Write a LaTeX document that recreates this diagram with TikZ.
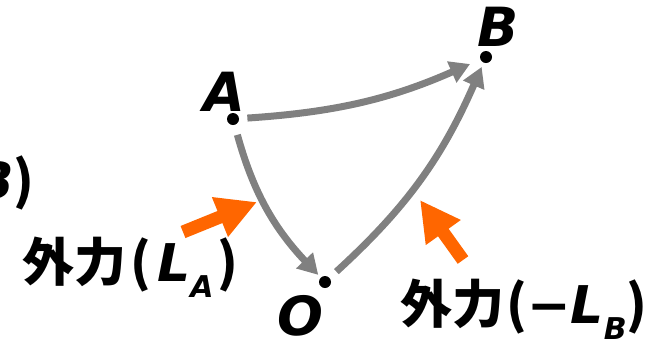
\documentclass[tikz,border=0pt]{standalone}
\usepackage{fontspec}
\usepackage{xcolor}
\usepackage{tikz}
\usetikzlibrary{arrows.meta}
\newfontfamily\jpfont{Noto Sans CJK JP}
\newfontfamily\ltfont{DejaVu Sans}
\definecolor{ArrowGray}{HTML}{808080}
\definecolor{ForceOrange}{HTML}{FF6600}
\newcommand{\lowsub}[1]{\raisebox{-8pt}{\fontsize{15}{15}\selectfont #1}}
\tikzset{
  dotpt/.style={circle, fill=black, inner sep=0pt, minimum size=6pt},
  ptlabel/.style={inner sep=0pt, font=\ltfont\bfseries\itshape\fontsize{27}{27}\selectfont},
  movearrow/.style={draw=ArrowGray, line width=3.5pt, -{Triangle[length=10pt,width=11pt]}},
  forcearrow/.style={draw=ForceOrange, line width=6.5pt, -{Triangle[length=20pt,width=20pt]}},
  forcelabel/.style={inner sep=0pt, font=\jpfont\bfseries\fontsize{26}{26}\selectfont}
}

\begin{document}
\begin{tikzpicture}[x=0.5pt,y=-0.5pt]
      \useasboundingbox (0,0) rectangle (654,344);
      \node[dotpt] (A) at (233,119) {};
      \node[dotpt] (B) at (486,57) {};
      \node[dotpt] (O) at (325,282) {};
      \node[ptlabel] (labA) at (224,92) {A};
      \node[ptlabel] (labB) at (498,27) {B};
      \node[ptlabel] (labO) at (300,316) {O};
      \draw[movearrow, shorten <=4pt, shorten >=5.5pt] (A) to[bend right=10] (B);
      \draw[movearrow, shorten <=5pt, shorten >=1.7pt] (A) to[bend right=14] (O);
      \draw[movearrow, shorten <=4.5pt, shorten >=2.2pt] (O) to[bend right=12] (B);
      \coordinate (tailA) at (183,232);
      \coordinate (headA) at (257,202);
      \coordinate (tailB) at (463,260);
      \coordinate (headB) at (420,200);
      \draw[forcearrow] (tailA) -- (headA);
      \draw[forcearrow] (tailB) -- (headB);
      \node[forcelabel, anchor=base west] (forceA) at (22,281)
        {外力\hspace{2pt}(\hspace{3pt}{\ltfont\itshape L\lowsub{A}}\hspace{2pt})};
      \node[forcelabel, anchor=base west] (forceB) at (400,323)
        {外力\hspace{1pt}({\ltfont −\itshape L\lowsub{B}})};
      \node[forcelabel, anchor=base east] (forceAB) at (35,199)
        {{\ltfont\itshape B})};
    \end{tikzpicture}
\end{document}
